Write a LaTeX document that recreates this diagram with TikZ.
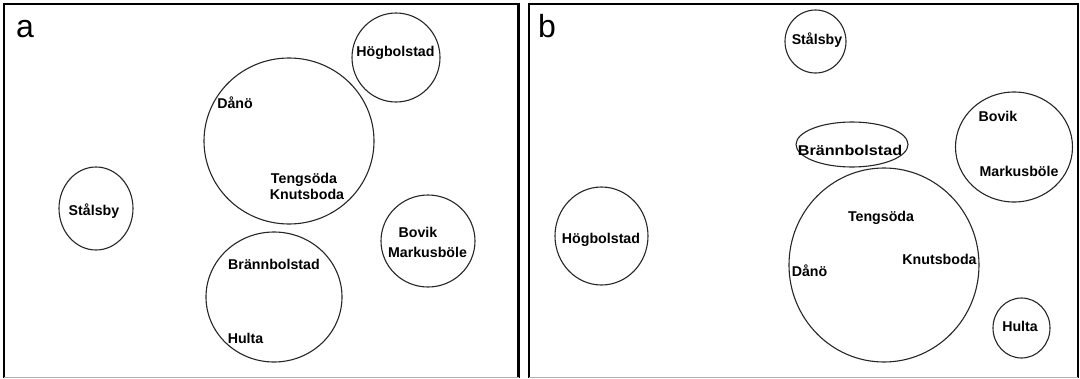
\documentclass[tikz,border=0pt]{standalone}
\usepackage{fontspec}
\setmainfont{Liberation Sans}
\usetikzlibrary{shapes.geometric}
\tikzset{
  blob/.style={draw=black!85, line width=1.1pt, ellipse, inner sep=0pt, outer sep=0pt},
  lbl/.style={font=\bfseries\fontsize{14.2}{16}\selectfont, inner sep=0pt, anchor=base},
  panellbl/.style={font=\fontsize{32}{36}\selectfont, inner sep=0pt, anchor=base west},
  frame/.style={line width=2.4pt, black},
  bottomline/.style={line width=1pt, black!30}
}
\begin{document}
\begin{tikzpicture}[x=1pt,y=-1pt]
\useasboundingbox (0,0) rectangle (1080,378);
% ---------- panel a ----------
\coordinate (aTL) at (4,4);
\coordinate (aTR) at (518.5,4);
\coordinate (aBL) at (4,377.5);
\coordinate (aBR) at (518.5,377.5);
\draw[frame] (aBL) -- (aTL) -- (aTR) -- (aBR);
\draw[bottomline] (aBL) -- (aBR);
\node[panellbl] (la) at (16,37) {a};

\node[blob, minimum width=88pt, minimum height=89pt] (ahog) at (396,57.5) {};
\node[blob, minimum width=170pt, minimum height=166pt] (abig) at (289,141) {};
\node[blob, minimum width=74pt, minimum height=83pt] (asta) at (96,208.5) {};
\node[blob, minimum width=94pt, minimum height=92pt] (abov) at (428,241) {};
\node[blob, minimum width=136pt, minimum height=130pt] (abra) at (274,297) {};

\node[lbl] (tahog) at (395.5,56) {Högbolstad};
\node[lbl] (tadan) at (235,108) {Dånö};
\node[lbl] (taten) at (304,183) {Tengsöda};
\node[lbl] (takn) at (307,199) {Knutsboda};
\node[lbl] (tasta) at (94,215) {Stålsby};
\node[lbl] (tabov) at (418,237) {Bovik};
\node[lbl] (tamar) at (427.5,257) {Markusböle};
\node[lbl] (tabra) at (274,269) {Brännbolstad};
\node[lbl] (tahul) at (245.5,343) {Hulta};

% ---------- panel b ----------
\coordinate (bTL) at (529,4);
\coordinate (bTR) at (1078,4);
\coordinate (bBL) at (529,377.5);
\coordinate (bBR) at (1078,377.5);
\draw[frame, line width=2pt] (bBL) -- (bTL) -- (bTR) -- (bBR);
\draw[bottomline] (bBL) -- (bBR);
\node[panellbl] (lb) at (538,37) {b};

\node[blob, minimum width=61pt, minimum height=63pt] (bsta) at (815.5,41.5) {};
\node[blob, minimum width=112pt, minimum height=45pt] (bbra) at (852,144.5) {};
\node[blob, minimum width=117pt, minimum height=110pt] (bbov) at (1014,147) {};
\node[blob, minimum width=93pt, minimum height=98pt] (bhog) at (601.5,236) {};
\node[blob, minimum width=190pt, minimum height=194pt] (bbig) at (884,265) {};
\node[blob, minimum width=57pt, minimum height=60pt] (bhul) at (1021.5,328) {};

\node[lbl] (tbsta) at (817,44) {Stålsby};
\node[lbl] (tbbra) at (850,155) {\scalebox{1.14}[1]{Brännbolstad}};
\node[lbl] (tbbov) at (998,121) {Bovik};
\node[lbl] (tbmar) at (1019,176) {Markusböle};
\node[lbl] (tbhog) at (601,243) {Högbolstad};
\node[lbl] (tbten) at (881,221) {Tengsöda};
\node[lbl] (tbkn) at (939.5,264) {Knutsboda};
\node[lbl] (tbdan) at (809.5,276) {Dånö};
\node[lbl] (tbhul) at (1020,331) {Hulta};
\end{tikzpicture}
\end{document}
